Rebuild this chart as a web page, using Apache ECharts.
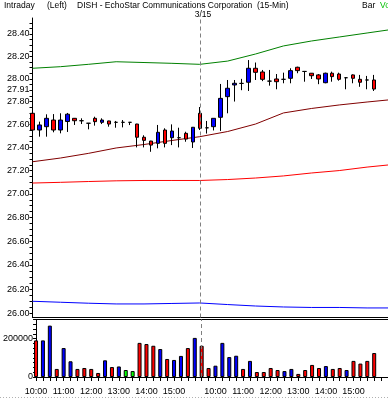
<!DOCTYPE html>
<html><head><meta charset="utf-8">
<script src="https://cdn.jsdelivr.net/npm/echarts@6/dist/echarts.min.js"></script>
<style>html,body{margin:0;padding:0;background:#fff;}#c{width:388px;height:398px;}</style>
</head><body><div id="c"></div>
<script>
// ---- data ----
const categories = [
 '10:00','10:15','10:30','10:45','11:00','11:15','11:30','11:45','12:00','12:15','12:30','12:45',
 '13:00','13:15','13:30','13:45','14:00','14:15','14:30','14:45','15:00','15:15','15:30','15:45',
 '9:30','9:45','10:00','10:15','10:30','10:45','11:00','11:15','11:30','11:45','12:00','12:15',
 '12:30','12:45','13:00','13:15','13:30','13:45','14:00','14:15','14:30','14:45','15:00','15:15',
 '15:30','15:45','',''
];
const openP  = [27.697,27.551,27.580,27.638,27.551,27.625,27.653,27.632,27.610,27.653,27.618,27.630,27.618,27.618,27.618,27.603,27.488,27.455,27.435,27.551,27.484,27.484,27.522,27.447,
                27.697,27.570,27.580,27.662,27.843,27.946,27.960,27.970,28.094,28.061,27.980,27.999,27.996,28.005,28.103,28.066,28.050,28.035,27.966,28.050,28.043,28.010,28.035,27.996,27.990,27.990];
const closeP = [27.551,27.595,27.653,27.551,27.638,27.689,27.632,27.632,27.610,27.624,27.638,27.603,27.618,27.618,27.618,27.488,27.461,27.420,27.531,27.435,27.542,27.484,27.472,27.575,
                27.566,27.570,27.653,27.828,27.917,27.961,27.960,28.094,28.058,27.996,27.980,27.975,27.996,28.073,28.073,28.066,28.028,27.999,28.050,28.020,27.996,28.010,28.005,27.970,27.990,27.910];
const lowP   = [27.540,27.493,27.493,27.531,27.522,27.534,27.595,27.603,27.557,27.589,27.603,27.580,27.571,27.574,27.594,27.400,27.400,27.362,27.392,27.400,27.420,27.400,27.449,27.395,
                27.551,27.520,27.547,27.543,27.697,27.800,27.900,27.893,27.990,27.980,27.940,27.908,27.961,27.961,28.050,27.975,27.999,27.953,27.961,27.975,27.984,27.908,27.961,27.930,27.908,27.893];
const highP  = [27.745,27.624,27.688,27.690,27.697,27.700,27.656,27.653,27.612,27.667,27.653,27.632,27.630,27.638,27.620,27.605,27.505,27.457,27.595,27.566,27.600,27.571,27.536,27.577,
                27.752,27.630,27.655,27.955,27.990,27.990,28.000,28.167,28.145,28.079,28.079,28.043,28.055,28.094,28.108,28.070,28.052,28.043,28.055,28.064,28.055,28.012,28.040,28.035,28.026,28.035];
const volume = [191000,191000,268000,42000,151000,82000,42000,47000,42000,21000,87000,52000,55000,36500,31000,178000,172000,163000,146000,94000,89000,110000,151000,204000,
                163000,47000,59000,178000,104000,111000,42000,84000,26000,26000,47000,36500,31000,42000,16000,36500,63000,47000,57000,42000,47000,36500,84000,70000,84000,125000];
const volDir = [-1,1,1,-1,1,1,-1,-1,-1,-1,1,-1,1,0,0,-1,-1,-1,1,-1,1,1,-1,1,
                -1,-1,1,1,1,1,-1,1,-1,-1,-1,-1,1,1,-1,-1,-1,-1,1,-1,-1,1,-1,-1,-1,-1];
const lineIdx   = [0,4,8,12,16,20,24,28,32,36,40,44,48,51];
const greenBand = [28.094,28.108,28.129,28.152,28.145,28.138,28.129,28.158,28.221,28.293,28.337,28.373,28.409,28.436];
const darkRedMA = [27.276,27.308,27.348,27.395,27.425,27.460,27.493,27.538,27.603,27.700,27.739,27.770,27.796,27.814];
const redLine   = [27.093,27.099,27.106,27.112,27.115,27.115,27.115,27.123,27.136,27.154,27.179,27.200,27.230,27.248];
const blueBand  = [26.099,26.091,26.083,26.077,26.077,26.081,26.085,26.072,26.060,26.052,26.048,26.048,26.044,26.044];
const priceLabels = [26.00,26.20,26.40,26.60,26.80,27.00,27.20,27.40,27.60,27.80,28.00,28.20,28.40,27.91];
const volLabels = [0,200000];
const dayBreakIndex = 24;

// ---- build ----
const priceTicks = []; for (let k = 0; k <= 50; k++) priceTicks.push(+(26 + k*0.05).toFixed(2));
const volTicks = []; for (let k = 0; k <= 12; k++) volTicks.push(k*25000);
const candleData = openP.map((o,i)=>[o, closeP[i], lowP[i], highP[i]]);
const dirColor = {'1':'#0000ff','-1':'#ff0000','0':'#00ff00'};
const volData = volume.map((v,i)=>({value:v, itemStyle:{color:dirColor[String(volDir[i])]}}));
const mk = arr => lineIdx.map((ix,k)=>[ix, arr[k]]);
const FONT = 'Liberation Sans';
const dashLine = {silent:true, symbol:['none','none'], label:{show:false}, lineStyle:{color:'#808080', type:[4,3], width:1}, data:[{xAxis:dayBreakIndex}]};
const lineSeries = (name, arr, color) => ({name, type:'line', xAxisIndex:0, yAxisIndex:0, data:mk(arr), showSymbol:false, symbol:'none', connectNulls:true, silent:true, z:2, lineStyle:{color, width:1}});

const chart = echarts.init(document.getElementById('c'));
chart.setOption({
  animation:false,
  backgroundColor:'#fff',
  grid:[{left:32.5, top:18, width:357, height:299.5},{left:32.5, top:319.5, width:357, height:57.5}],
  xAxis:[
    {type:'category', gridIndex:0, data:categories, boundaryGap:false, axisLine:{lineStyle:{color:'#000'}}, axisTick:{show:false}, axisLabel:{show:false}, splitLine:{show:false}},
    {type:'category', gridIndex:1, data:categories, boundaryGap:false, axisLine:{lineStyle:{color:'#000'}},
     axisTick:{show:true, interval:0, length:4, lineStyle:{color:'#000'}},
     axisLabel:{interval:(i,v)=>/^1\d:00$/.test(v), fontSize:9, fontFamily:FONT, color:'#000', margin:10}, splitLine:{show:false}},
    {type:'category', gridIndex:1, position:'top', data:categories, boundaryGap:false, axisLine:{lineStyle:{color:'#000'}}, axisTick:{show:false}, axisLabel:{show:false}}
  ],
  yAxis:[
    {type:'log', logBase:10, gridIndex:0, min:25.9655, max:28.544,
     axisLine:{show:true, lineStyle:{color:'#000'}},
     axisTick:{show:true, length:3, customValues:priceTicks, lineStyle:{color:'#000'}},
     axisLabel:{customValues:priceLabels, formatter:v=>v.toFixed(2), fontSize:9, fontFamily:FONT, color:'#000', margin:3},
     splitLine:{show:false}},
    {type:'value', gridIndex:1, min:0, max:300000,
     axisLine:{show:true, lineStyle:{color:'#000'}},
     axisTick:{show:true, length:3, customValues:volTicks, lineStyle:{color:'#000'}},
     axisLabel:{customValues:volLabels, formatter:v=>String(v), fontSize:9, fontFamily:FONT, color:'#000', margin:3},
     splitLine:{show:false}}
  ],
  series:[
    lineSeries('upper', greenBand, '#008000'),
    lineSeries('ma', darkRedMA, '#800000'),
    lineSeries('mid', redLine, '#ff0000'),
    lineSeries('lower', blueBand, '#0000ff'),
    {type:'candlestick', xAxisIndex:0, yAxisIndex:0, data:candleData, barWidth:4, z:3, silent:true,
     itemStyle:{color:'#0000ff', color0:'#ff0000', borderColor:'#000', borderColor0:'#000', borderColorDoji:'#000', borderWidth:1},
     markLine:dashLine},
    {type:'bar', xAxisIndex:1, yAxisIndex:1, data:volData, barWidth:4, silent:true,
     itemStyle:{borderColor:'#000', borderWidth:1}, markLine:dashLine}
  ],
  graphic:[
    {type:'text', x:4, y:6, style:{text:'Intraday', fontSize:8.5, fontFamily:FONT, fill:'#000', verticalAlign:'middle'}},
    {type:'text', x:47, y:6, style:{text:'(Left)', fontSize:8.5, fontFamily:FONT, fill:'#000', verticalAlign:'middle'}},
    {type:'text', x:77, y:6, style:{text:'DISH - EchoStar Communications Corporation  (15-Min)', fontSize:8.5, fontFamily:FONT, fill:'#000', verticalAlign:'middle'}},
    {type:'text', x:203, y:15, style:{text:'3/15', fontSize:8.5, fontFamily:FONT, fill:'#000', align:'center', verticalAlign:'middle'}},
    {type:'text', x:362, y:6, style:{text:'Bar', fontSize:8.5, fontFamily:FONT, fill:'#000', verticalAlign:'middle'}},
    {type:'text', x:380, y:6, style:{text:'Vol', fontSize:8.5, fontFamily:FONT, fill:'#00c000', verticalAlign:'middle'}},
    {type:'line', shape:{x1:0, y1:397.5, x2:388, y2:397.5}, style:{stroke:'#b0b0b0', lineWidth:1, lineDash:[1,2]}}
  ]
});
</script></body></html>
